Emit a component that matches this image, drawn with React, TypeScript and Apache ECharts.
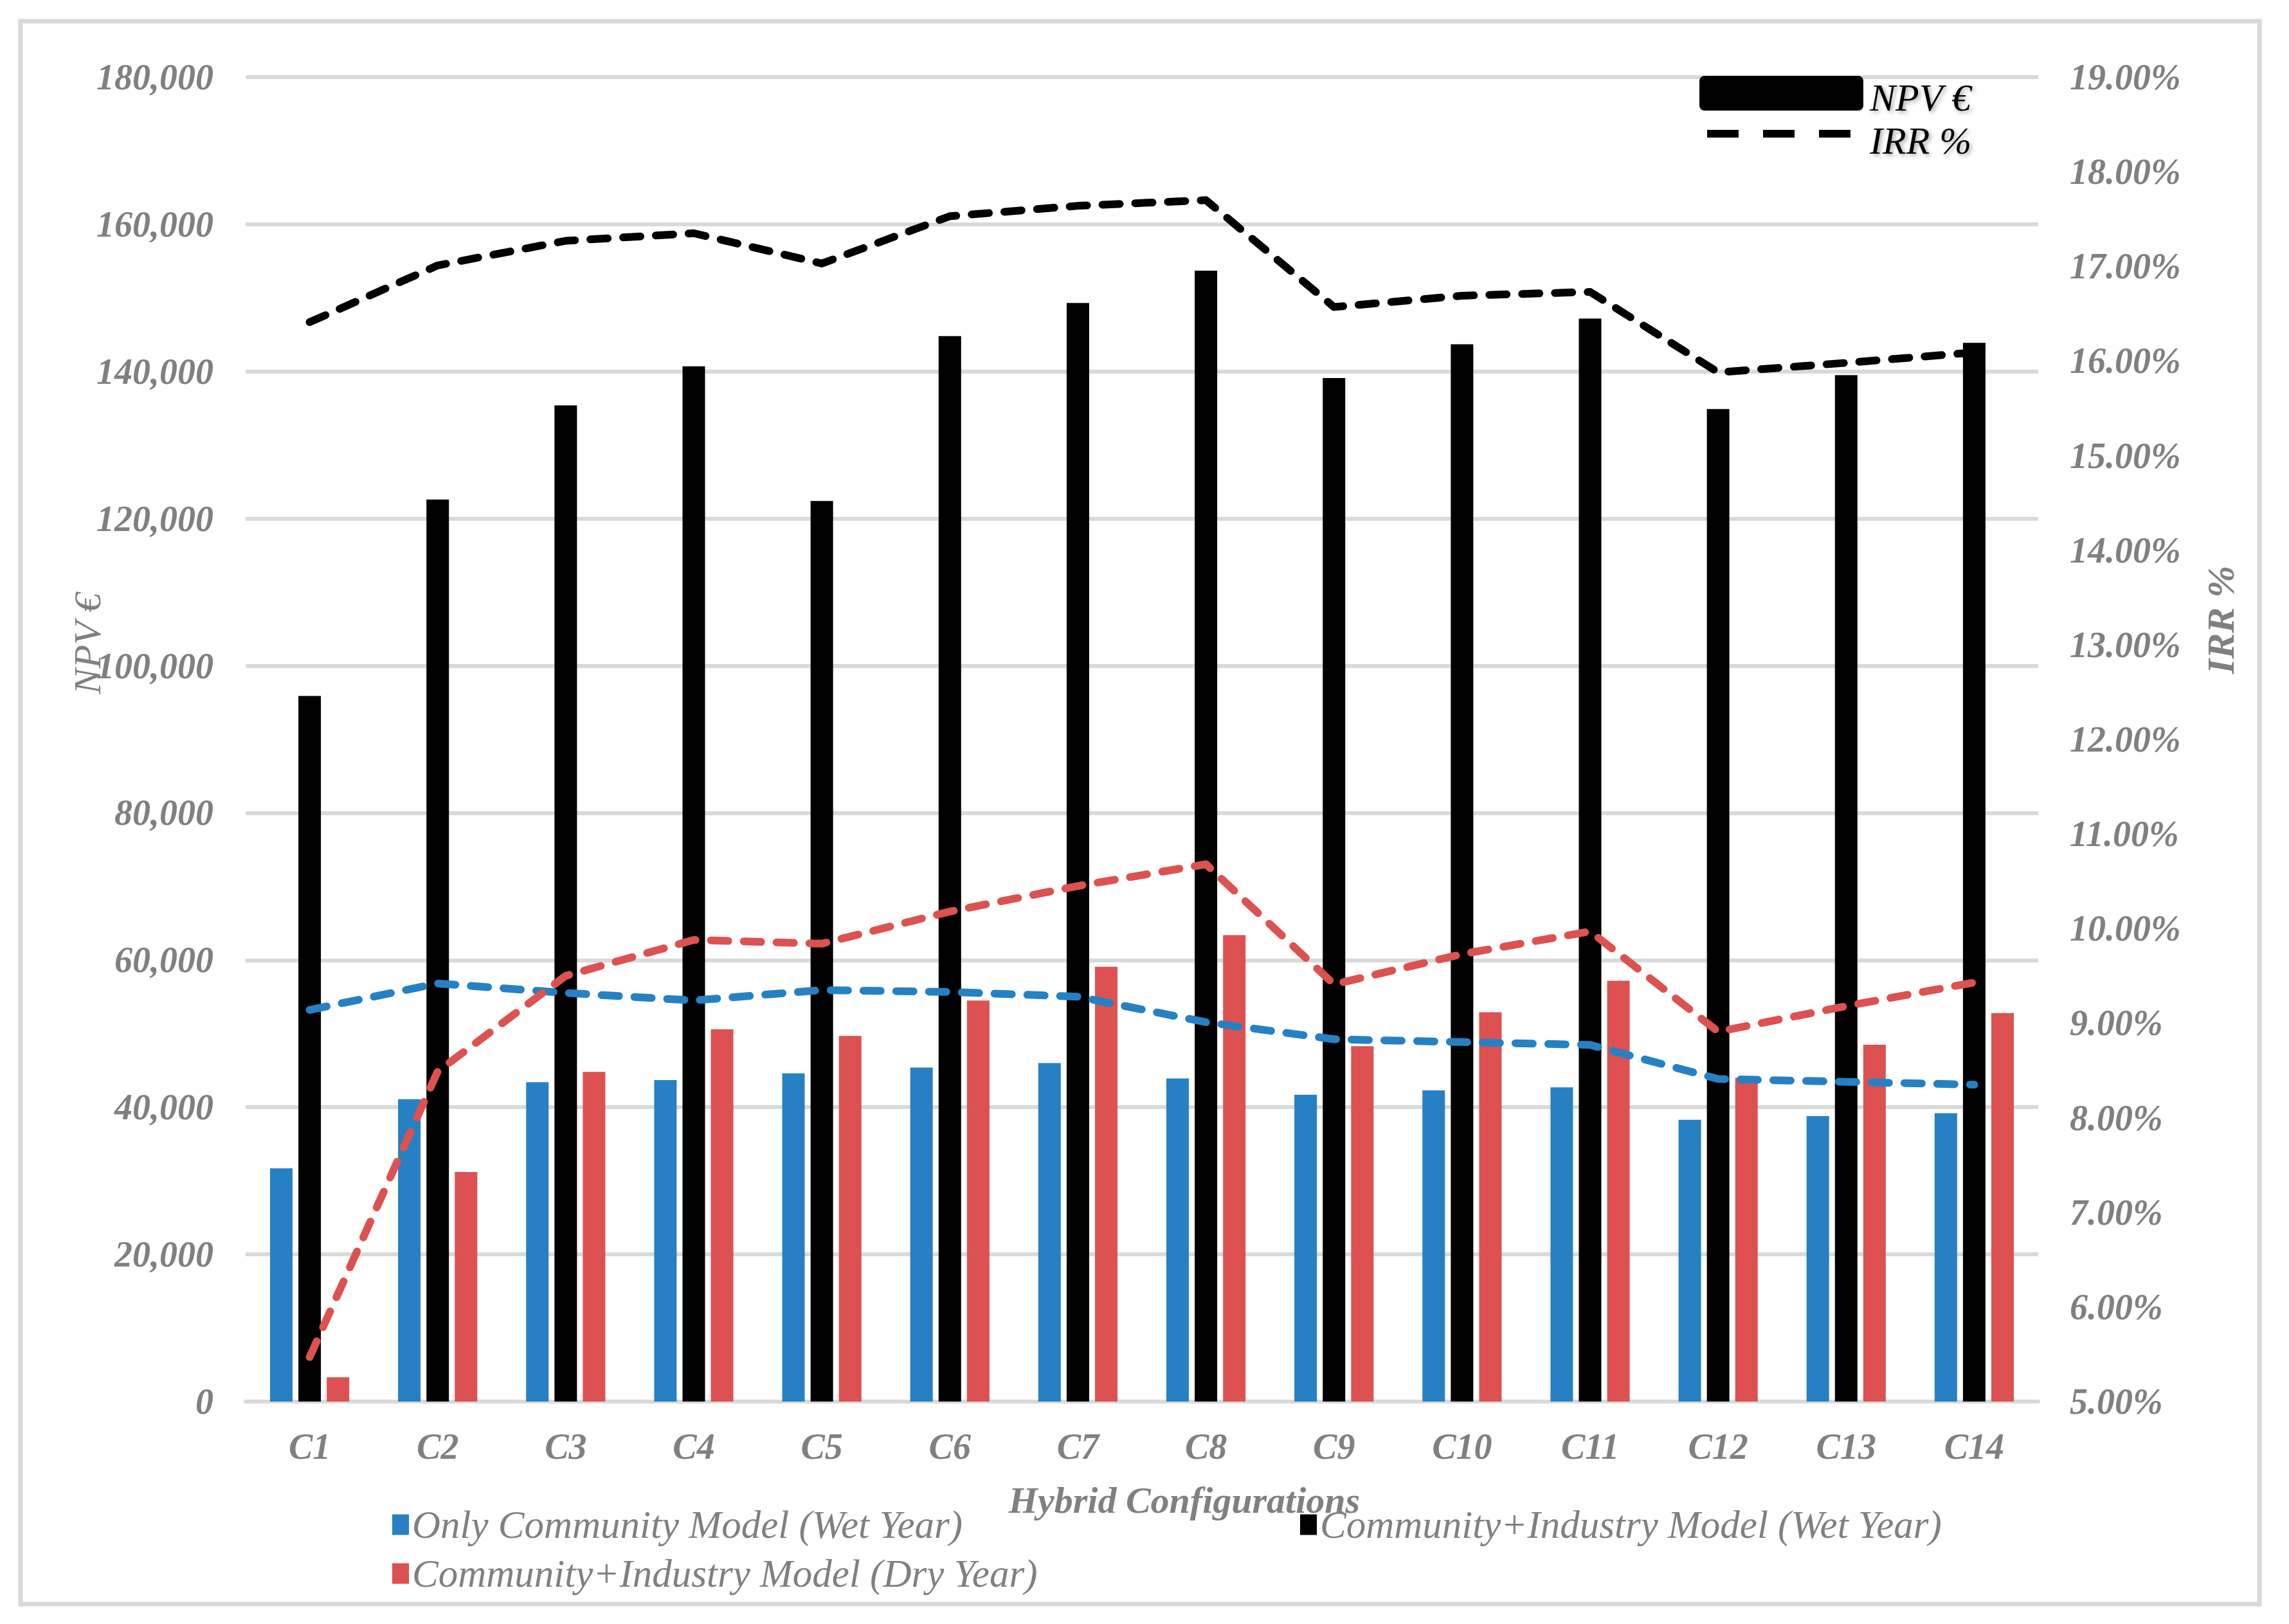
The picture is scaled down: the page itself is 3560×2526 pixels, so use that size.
import React, { useEffect, useRef } from "react";
import * as echarts from "echarts";

const categories = ["C1", "C2", "C3", "C4", "C5", "C6", "C7", "C8", "C9", "C10", "C11", "C12", "C13", "C14"];

const seriesNames = [
  "Only Community Model (Wet Year)",
  "Community+Industry Model (Wet Year)",
  "Community+Industry Model (Dry Year)",
];

const npvCommunityWet = [31700, 41100, 43400, 43700, 44600, 45400, 46000, 43900, 41700, 42300, 42700, 38300, 38800, 39200];
const npvIndustryWet = [95900, 122600, 135400, 140700, 122400, 144800, 149300, 153700, 139100, 143700, 147200, 134900, 139500, 143900];
const npvIndustryDry = [3300, 31200, 44800, 50600, 49700, 54500, 59100, 63400, 48300, 52900, 57200, 44000, 48500, 52800];

const irrCommunityWet = [9.14, 9.42, 9.32, 9.24, 9.35, 9.33, 9.28, 9.01, 8.83, 8.8, 8.77, 8.41, 8.38, 8.35];
const irrIndustryWet = [16.41, 17.01, 17.27, 17.35, 17.03, 17.53, 17.64, 17.7, 16.57, 16.69, 16.73, 15.88, 15.98, 16.09];
const irrIndustryDry = [5.47, 8.49, 9.5, 9.88, 9.84, 10.18, 10.45, 10.68, 9.41, 9.73, 9.97, 8.91, 9.18, 9.43];

const npvAxis = { min: 0, max: 180000, interval: 20000 };
const irrAxis = { min: 5, max: 19, interval: 1 };

const BLUE = "#2581C3";
const BLACK = "#000000";
const RED = "#DD5150";
const GRAY = "#808080";
const GRID = "#D9D9D9";
const FONT = '"Liberation Serif", "DejaVu Serif", serif';

export default function App() {
  const ref = useRef<HTMLDivElement>(null);

  useEffect(() => {
    if (!ref.current) return;
    const chart = echarts.init(ref.current, null, { renderer: "svg", width: 3560, height: 2526 });

    const tickStyle = {
      color: GRAY,
      fontFamily: FONT,
      fontStyle: "italic",
      fontWeight: "bold",
      fontSize: 56,
    };
    const legendText = {
      color: GRAY,
      fontFamily: FONT,
      fontStyle: "italic",
      fontSize: 61,
    };
    const lineDash = (color: string) => ({
      color,
      width: 12,
      type: [27, 24],
      cap: "round",
      join: "round",
    });
    const legendBase = {
      orient: "horizontal",
      padding: 0,
      itemWidth: 26,
      itemHeight: 32,
      icon: "rect",
      selectedMode: false,
      textStyle: legendText,
    };

    chart.setOption({
      animation: false,
      backgroundColor: "#FFFFFF",
      grid: { left: 382, right: 390, top: 120, bottom: 346, containLabel: false },
      xAxis: {
        type: "category",
        data: categories,
        axisLine: { show: true, lineStyle: { color: GRID, width: 6 } },
        axisTick: { show: false },
        axisLabel: { ...tickStyle, margin: 42 },
        splitLine: { show: false },
      },
      yAxis: [
        {
          type: "value",
          min: npvAxis.min,
          max: npvAxis.max,
          interval: npvAxis.interval,
          axisLine: { show: false },
          axisTick: { show: false },
          axisLabel: {
            ...tickStyle,
            margin: 50,
            formatter: (v: number) => v.toLocaleString("en-US"),
          },
          splitLine: { show: true, lineStyle: { color: GRID, width: 6 } },
        },
        {
          type: "value",
          min: irrAxis.min,
          max: irrAxis.max,
          interval: irrAxis.interval,
          axisLine: { show: false },
          axisTick: { show: false },
          axisLabel: {
            ...tickStyle,
            margin: 49,
            formatter: (v: number) => v.toFixed(2) + "%",
          },
          splitLine: { show: false },
        },
      ],
      legend: [
        { ...legendBase, data: [seriesNames[0]], left: 610, top: 2341 },
        { ...legendBase, data: [seriesNames[1]], left: 2022, top: 2341 },
        { ...legendBase, data: [seriesNames[2]], left: 610, top: 2417 },
      ],
      series: [
        {
          name: seriesNames[0],
          type: "bar",
          data: npvCommunityWet,
          barWidth: 35,
          barGap: "26%",
          itemStyle: { color: BLUE },
          z: 2,
        },
        {
          name: seriesNames[1],
          type: "bar",
          data: npvIndustryWet,
          barWidth: 35,
          barGap: "26%",
          itemStyle: { color: BLACK },
          z: 2,
        },
        {
          name: seriesNames[2],
          type: "bar",
          data: npvIndustryDry,
          barWidth: 35,
          barGap: "26%",
          itemStyle: { color: RED },
          z: 2,
        },
        {
          name: "IRR % - Only Community Model (Wet Year)",
          type: "line",
          yAxisIndex: 1,
          data: irrCommunityWet,
          symbol: "none",
          lineStyle: lineDash(BLUE),
          z: 5,
        },
        {
          name: "IRR % - Community+Industry Model (Wet Year)",
          type: "line",
          yAxisIndex: 1,
          data: irrIndustryWet,
          symbol: "none",
          lineStyle: lineDash(BLACK),
          z: 5,
        },
        {
          name: "IRR % - Community+Industry Model (Dry Year)",
          type: "line",
          yAxisIndex: 1,
          data: irrIndustryDry,
          symbol: "none",
          lineStyle: lineDash(RED),
          z: 5,
        },
      ],
      graphic: [
        {
          type: "rect",
          z: -10,
          shape: { x: 32, y: 33, width: 3482, height: 2462 },
          style: { fill: "none", stroke: GRID, lineWidth: 7 },
        },
        {
          type: "rect",
          z: 10,
          shape: { x: 2643, y: 118, width: 255, height: 54, r: 8 },
          style: { fill: "#000" },
        },
        {
          type: "text",
          z: 10,
          x: 2908,
          y: 152,
          style: {
            text: "NPV €",
            fill: "#000",
            fontFamily: FONT,
            fontStyle: "italic",
            fontSize: 60,
            verticalAlign: "middle",
            align: "left",
            textShadowColor: "rgba(0,0,0,0.35)",
            textShadowBlur: 6,
            textShadowOffsetX: 3,
            textShadowOffsetY: 3,
          },
        },
        {
          type: "line",
          z: 10,
          shape: { x1: 2655, y1: 208, x2: 2881, y2: 208 },
          style: { stroke: "#000", lineWidth: 12, lineDash: [49, 38] },
        },
        {
          type: "text",
          z: 10,
          x: 2908,
          y: 219,
          style: {
            text: "IRR %",
            fill: "#000",
            fontFamily: FONT,
            fontStyle: "italic",
            fontSize: 60,
            verticalAlign: "middle",
            align: "left",
            textShadowColor: "rgba(0,0,0,0.35)",
            textShadowBlur: 6,
            textShadowOffsetX: 3,
            textShadowOffsetY: 3,
          },
        },
        {
          type: "text",
          z: 10,
          x: 136,
          y: 1001,
          rotation: Math.PI / 2,
          style: {
            text: "NPV €",
            fill: GRAY,
            fontFamily: FONT,
            fontStyle: "italic",
            fontSize: 60,
            align: "center",
            verticalAlign: "middle",
          },
        },
        {
          type: "text",
          z: 10,
          x: 3454,
          y: 964,
          rotation: Math.PI / 2,
          style: {
            text: "IRR %",
            fill: GRAY,
            fontFamily: FONT,
            fontStyle: "italic",
            fontWeight: "bold",
            fontSize: 60,
            align: "center",
            verticalAlign: "middle",
          },
        },
        {
          type: "text",
          z: 10,
          x: 1842,
          y: 2333,
          style: {
            text: "Hybrid Configurations",
            fill: GRAY,
            fontFamily: FONT,
            fontStyle: "italic",
            fontWeight: "bold",
            fontSize: 58,
            align: "center",
            verticalAlign: "middle",
          },
        },
      ],
    });

    return () => {
      chart.dispose();
    };
  }, []);

  return (
    <div
      ref={ref}
      style={{ position: "fixed", left: 0, top: 0, width: 3560, height: 2526, background: "#fff" }}
    />
  );
}
